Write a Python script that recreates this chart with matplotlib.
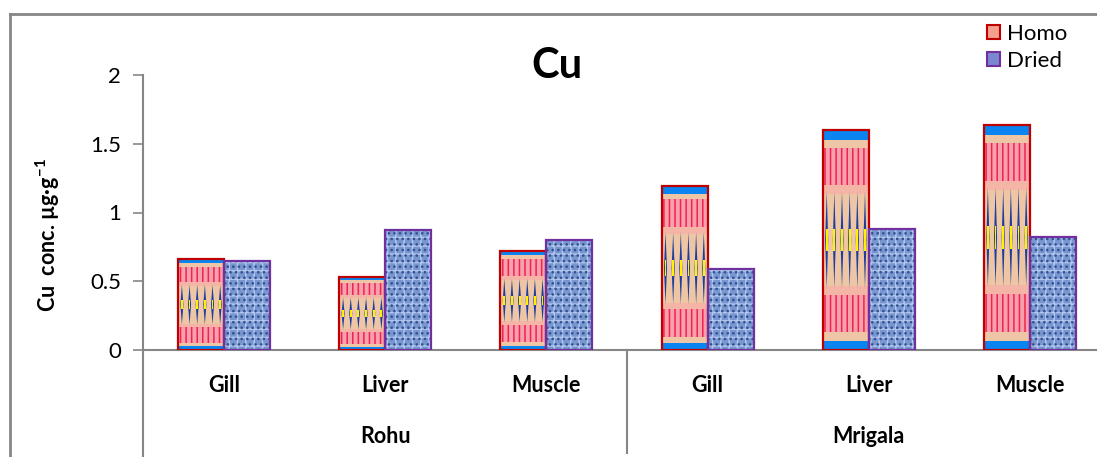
import numpy as np
import matplotlib
matplotlib.use("Agg")
import matplotlib.pyplot as plt
from matplotlib.lines import Line2D
from matplotlib.patches import Patch

# data
organs = ["Gill", "Liver", "Muscle", "Gill", "Liver", "Muscle"]
fish = ["Rohu", "Mrigala"]
homo = [0.66, 0.53, 0.72, 1.19, 1.60, 1.64]
dried = [0.65, 0.87, 0.80, 0.59, 0.88, 0.82]
yticks = [0, 0.5, 1, 1.5, 2]

plt.rcParams['font.family'] = ['Lato', 'DejaVu Sans']
plt.rcParams['hatch.linewidth'] = 1.1
plt.rcParams['mathtext.fontset'] = 'custom'
plt.rcParams['mathtext.rm'] = 'Lato'
plt.rcParams['mathtext.bf'] = 'Lato:bold'

W, H = 1097, 457
fig = plt.figure(figsize=(W / 100, H / 100), dpi=100)
ax = fig.add_axes([143.4 / W, 107 / H, 967.2 / W, 275 / H])

x = np.arange(len(organs))
bw = 0.285
grey = '#868686'

# Homo bars: layered pattern (blue bands, red stripes, peach body)
hx = x - bw / 2
hv = np.array(homo)
ax.bar(hx, hv, bw, color='#EEC6A6', linewidth=0, zorder=2)
layers = [(0.0, 0.04, '#0A84F0', None), (0.08, 0.17, '#F8A0AC', '|||'),
          (0.25, 0.04, '#F4B4A6', None), (0.71, 0.04, '#F4B4A6', None),
          (0.75, 0.17, '#F8A0AC', '|||'), (0.955, 0.045, '#0A84F0', None)]
for b, hgt, col, hatch in layers:
    ax.bar(hx, hv * hgt, bw, bottom=hv * b, color=col, hatch=hatch,
           edgecolor='#EE2452' if hatch else col, linewidth=0, zorder=3)

# diamonds in the middle of each homo bar
for xc, h in zip(hx, hv):
    left = xc - bw / 2
    step = bw / 6
    for i in range(6):
        cx = left + (i + 0.5) * step
        ax.fill([cx - step * 0.2, cx, cx + step * 0.2, cx],
                [h * 0.5, h * 0.28, h * 0.5, h * 0.72],
                color='#1B3F9A', linewidth=0, zorder=4)
        ax.fill([cx - step * 0.12, cx + step * 0.12, cx + step * 0.12, cx - step * 0.12],
                [h * 0.45, h * 0.45, h * 0.55, h * 0.55],
                color='#FFF200', linewidth=0, zorder=5)
ax.bar(hx, hv, bw, facecolor='none', edgecolor='#C00000', linewidth=1.6, zorder=6)

# Dried bars: mottled blue
dx = x + bw / 2
ax.bar(dx, dried, bw, color='#7896CF', linewidth=0, zorder=2)
ax.bar(dx, dried, bw, facecolor='none', hatch='++', edgecolor='#B3C8F0', linewidth=0, zorder=3)
ax.bar(dx, dried, bw, facecolor='none', hatch='...', edgecolor='#34528F', linewidth=0, zorder=3)
ax.bar(dx, dried, bw, facecolor='none', edgecolor='#7030A0', linewidth=1.6, zorder=6)

ax.set_xlim(-0.5, len(organs) - 0.5)
ax.set_ylim(0, 2)
ax.set_yticks(yticks)
ax.set_yticklabels(['0', '0.5', '1', '1.5', '2'], fontsize=16)
ax.tick_params(axis='y', direction='out', length=7, width=1.2, color=grey, pad=9)
ax.set_xticks([])
for s in ['top', 'right']:
    ax.spines[s].set_visible(False)
ax.spines['left'].set_color(grey)
ax.spines['left'].set_linewidth(1.5)
ax.spines['bottom'].set_color(grey)
ax.spines['bottom'].set_linewidth(1.5)

# axis extensions below zero and group separator
tr = ax.get_xaxis_transform()
ax.plot([-0.5, -0.5], [0, -0.39], transform=tr, color=grey, lw=1.5, clip_on=False)
ax.plot([2.5, 2.5], [0, -0.375], transform=tr, color=grey, lw=1.5, clip_on=False)

for xi, lab in zip(x, organs):
    ax.text(xi, -0.128, lab, transform=tr, ha='center', va='center',
            fontsize=15.5, fontweight='bold')
for gi, g in enumerate(fish):
    ax.text(gi * 3 + 1, -0.313, g, transform=tr, ha='center', va='center',
            fontsize=15.5, fontweight='bold')

fig.text(48 / W, 1 - 235 / H, 'Cu  conc. µg·g$^{\\mathbf{-1}}$', rotation=90,
         ha='center', va='center', fontsize=15.5, fontweight='bold')
fig.text(557 / W, 1 - 66 / H, 'Cu', ha='center', va='center',
         fontsize=30, fontweight='bold')

handles = [Patch(facecolor='#F3A08E', edgecolor='#C00000', linewidth=1.5),
           Patch(facecolor='#7B88D0', edgecolor='#7030A0', linewidth=1.5)]
fig.legend(handles, ['Homo', 'Dried'], loc='upper left',
           bbox_to_anchor=(978 / W, 1 - 15 / H), frameon=False, fontsize=16,
           handlelength=0.6, handleheight=0.6, handletextpad=0.3,
           labelspacing=0.3, borderaxespad=0)

# outer frame (left and top edges)
fig.add_artist(Line2D([9.5 / W, 9.5 / W], [0, 1 - 13.5 / H], color=grey, lw=2))
fig.add_artist(Line2D([9.5 / W, 1], [1 - 13.5 / H, 1 - 13.5 / H], color=grey, lw=2))

fig.savefig('out.png', dpi=100)
